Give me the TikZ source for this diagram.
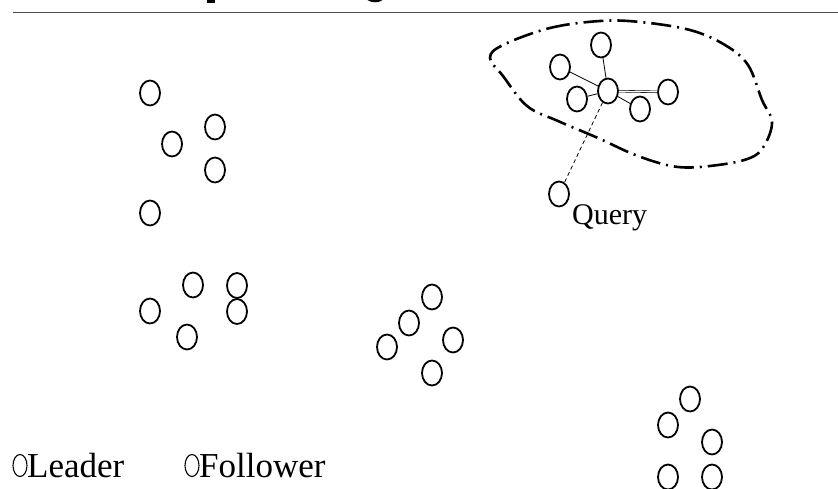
\documentclass[tikz,border=0pt]{standalone}
\usepackage{fontspec}
\setmainfont{Liberation Serif}
\usetikzlibrary{shapes.geometric}
\begin{document}
\begin{tikzpicture}[x=1pt,y=-1pt,
  pt/.style={ellipse,draw,line width=1.8pt,inner sep=0pt,minimum width=20pt,minimum height=25pt},
  key/.style={ellipse,draw,line width=1.1pt,inner sep=0pt,minimum width=14pt,minimum height=22pt},
  link/.style={line width=0.8pt},
  probe/.style={line width=0.8pt,dash pattern=on 4pt off 3pt},
  hull/.style={line width=2.6pt,dash pattern=on 20pt off 6pt on 2pt off 6pt},
  lbl/.style={inner sep=0pt,font=\fontsize{35}{40}\selectfont}]
\useasboundingbox (0,0) rectangle (838,488);
\clip (0,0) rectangle (838,488);

% header rule and the descenders of the heading above it
\draw[line width=1.5pt,black!70] (13,12.5) -- (838,12.5);
\fill (207,-2) rectangle (215,3);
\draw[line width=2.6pt] (375,-5) ellipse [x radius=9, y radius=6];

% cluster 1
\node[pt] (a1) at (150,93) {};
\node[pt] (a2) at (215,127) {};
\node[pt] (a3) at (172,144) {};
\node[pt] (a4) at (215,170) {};
\node[pt] (a5) at (150,213) {};

% cluster 2
\node[pt] (b1) at (193,285) {};
\node[pt] (b2) at (237,285.5) {};
\node[pt] (b3) at (150,311) {};
\node[pt] (b4) at (237,311.5) {};
\node[pt] (b5) at (187,337) {};

% cluster 3
\node[pt] (c1) at (432,297) {};
\node[pt] (c2) at (409,323) {};
\node[pt] (c3) at (387,347) {};
\node[pt] (c4) at (453,340) {};
\node[pt] (c5) at (432,373) {};

% cluster 4
\node[pt] (d1) at (690,399) {};
\node[pt] (d2) at (668,425) {};
\node[pt] (d3) at (712,442) {};
\node[pt] (d4) at (668,477) {};
\node[pt] (d5) at (712,477) {};

% neighbourhood around the query
\node[pt] (hub) at (608,91) {};
\node[pt] (n1) at (601,45) {};
\node[pt] (n2) at (560,67) {};
\node[pt] (n3) at (577,99) {};
\node[pt] (n4) at (668,92) {};
\node[pt] (n5) at (640,109) {};
\draw[link] (hub) -- (n1);
\draw[link] (hub) -- (n2);
\draw[link] (hub) -- (n3);
\draw[link] (hub) -- (n5);
\draw[link,double,double distance=1.2pt,line width=0.6pt] (hub) -- (n4);

\draw[hull] plot[smooth cycle,tension=0.6] coordinates {
  (503,45) (550,28) (600,21) (640,22) (690,30) (725,45) (748,65)
  (762,100) (772,122) (764,146) (750,158) (718,165) (678,167)
  (638,156) (598,138) (558,121) (527,106) (503,76) (490,58)};

% query point
\node[pt] (q) at (559,194) {};
\draw[probe] (hub) -- (q);
\node[lbl,anchor=base west,font=\fontsize{30}{36}\selectfont] (qt) at (572,224) {Query};

% legend
\node[key] (k1) at (20,465.5) {};
\node[lbl,anchor=base west] (k1t) at (27,477) {Leader};
\node[key] (k2) at (192,465.5) {};
\node[lbl,anchor=base west] (k2t) at (199,477) {Follower};
\end{tikzpicture}
\end{document}
